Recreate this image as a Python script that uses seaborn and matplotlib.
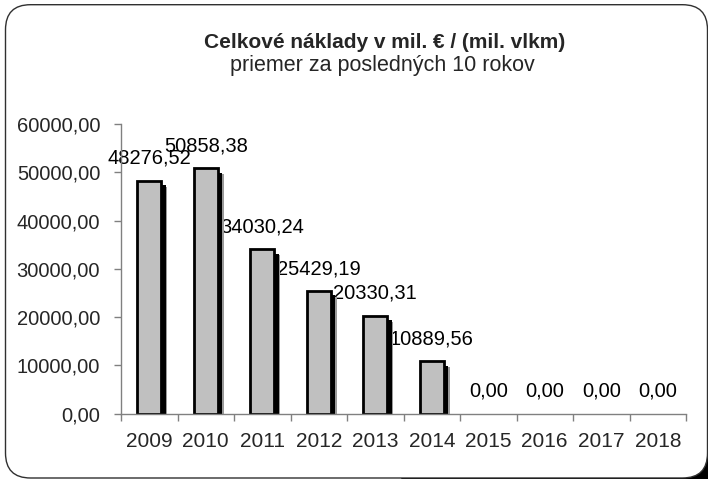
import matplotlib
matplotlib.use('Agg')
import matplotlib.pyplot as plt
import matplotlib.patches as patches
import matplotlib.transforms as mtransforms
from matplotlib.ticker import FixedLocator, FuncFormatter
import seaborn as sns
import pandas as pd

years = ['2009', '2010', '2011', '2012', '2013', '2014', '2015', '2016', '2017', '2018']
costs = [48276.52, 50858.38, 34030.24, 25429.19, 20330.31, 10889.56, 0.0, 0.0, 0.0, 0.0]

title = 'Celkové náklady v mil. € / (mil. vlkm)'
subtitle = 'priemer za posledných 10 rokov'

sns.set_style('white')
plt.rcParams['font.family'] = ['Liberation Sans', 'DejaVu Sans']


def fmt(v):
    return f'{v:.2f}'.replace('.', ',')


W, H = 708, 479
fig = plt.figure(figsize=(W / 100, H / 100), dpi=100)

# background frame with rounded corners, cut by the image edge; shadow shows at the corner
bg = fig.add_axes([0, 0, 1, 1], zorder=-5)
bg.set_xlim(0, W)
bg.set_ylim(0, H)
bg.axis('off')
bg.add_patch(patches.FancyBboxPatch((400, -14), 322, 300,
                                    boxstyle='round,pad=0,rounding_size=24',
                                    fc='black', ec='none', clip_on=False))
bg.add_patch(patches.FancyBboxPatch((5.5, 1), 702, 473.3,
                                    boxstyle='round,pad=0,rounding_size=25',
                                    fc='white', ec='#303030', lw=1.0, clip_on=False))

ax = fig.add_axes([121 / W, 1 - 413.7 / H, (686 - 121) / W, (413.7 - 124) / H])
ax.patch.set_alpha(0)

df = pd.DataFrame({'year': years, 'cost': costs})
sns.barplot(data=df, x='year', y='cost', color='#C0C0C0', saturation=1,
            edgecolor='black', linewidth=2, width=0.43, ax=ax, zorder=3)

# drop shadows behind the bars; zero bars are not drawn at all
for bar in list(ax.patches):
    if bar.get_height() <= 0:
        bar.set_visible(False)
        continue
    x0, y0 = bar.get_x(), bar.get_y()
    w, h = bar.get_width(), bar.get_height()
    for dx, col in [(6, '#9a9a9a'), (4.5, 'black')]:
        off = mtransforms.ScaledTranslation(dx / 100, -dx / 100, fig.dpi_scale_trans)
        sh = patches.Rectangle((x0, y0), w, h, fc=col, ec='none',
                               transform=ax.transData + off, zorder=2)
        ax.add_patch(sh)

# value labels (under the bars, as in the reference)
for i, v in enumerate(costs):
    ax.annotate(fmt(v), (i, v), xytext=(0, 16), textcoords='offset points',
                ha='center', va='center', fontsize=14.5, color='black', zorder=1)

ax.set_xlim(-0.5, 9.5)
ax.set_ylim(0, 60000)
ax.set_yticks(range(0, 60001, 10000))
ax.yaxis.set_major_formatter(FuncFormatter(lambda v, p: fmt(v)))
ax.set_xlabel('')
ax.set_ylabel('')

for s in ['top', 'right']:
    ax.spines[s].set_visible(False)
for s in ['left', 'bottom']:
    ax.spines[s].set_color('#808080')
    ax.spines[s].set_linewidth(1.0)
    ax.spines[s].set_zorder(4)

ax.tick_params(axis='y', direction='out', length=5, width=1, color='#808080',
               pad=10, labelsize=14.5, left=True)
ax.tick_params(axis='x', which='major', length=0, pad=13, labelsize=15)
ax.xaxis.set_minor_locator(FixedLocator([i - 0.5 for i in range(11)]))
ax.tick_params(axis='x', which='minor', direction='out', length=5, width=1,
               color='#808080', bottom=True)

fig.text(385 / W, 1 - 42 / H, title, ha='center', va='center',
         fontsize=15, fontweight='bold')
fig.text(382 / W, 1 - 66 / H, subtitle, ha='center', va='center', fontsize=15.5)

fig.savefig('out.png', dpi=100)
